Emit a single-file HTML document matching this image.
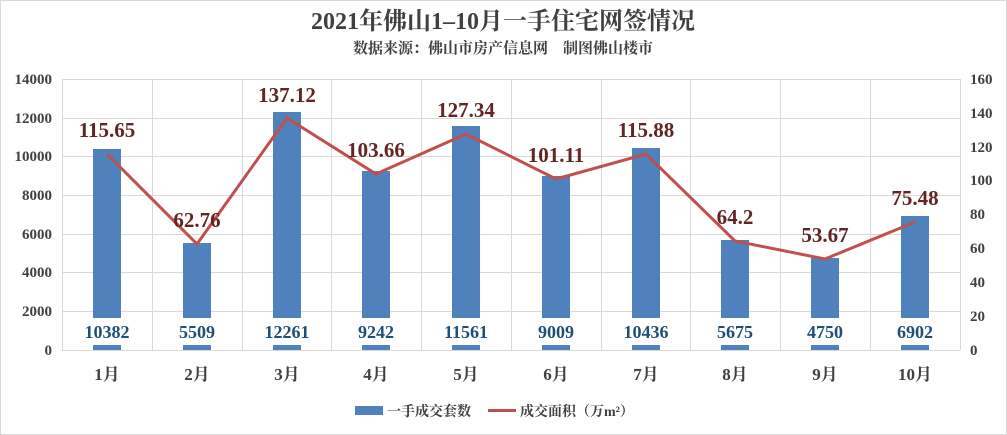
<!DOCTYPE html><html><head><meta charset="utf-8"><style>body{margin:0;background:#fff}svg{display:block}</style></head><body>
<svg width="1007" height="435" xmlns="http://www.w3.org/2000/svg" font-family="'Liberation Serif','Noto Serif CJK SC',serif" font-weight="bold">
<rect x="0.5" y="0.5" width="1006" height="434" fill="#fff" stroke="#d9d9d9"/>
<text x="503" y="29" text-anchor="middle" font-size="24" fill="#404040">2021年佛山1–10月一手住宅网签情况</text>
<text x="503" y="53" text-anchor="middle" font-size="15" fill="#404040">数据来源：佛山市房产信息网　制图佛山楼市</text>
<g stroke="#d9d9d9" stroke-width="1">
<line x1="62" y1="79.5" x2="960" y2="79.5"/><line x1="62" y1="118.5" x2="960" y2="118.5"/><line x1="62" y1="156.5" x2="960" y2="156.5"/><line x1="62" y1="195.5" x2="960" y2="195.5"/><line x1="62" y1="234.5" x2="960" y2="234.5"/><line x1="62" y1="272.5" x2="960" y2="272.5"/><line x1="62" y1="311.5" x2="960" y2="311.5"/><line x1="62" y1="350.5" x2="960" y2="350.5"/>
<line x1="62.5" y1="79" x2="62.5" y2="350"/><line x1="152.5" y1="79" x2="152.5" y2="350"/><line x1="242.5" y1="79" x2="242.5" y2="350"/><line x1="331.5" y1="79" x2="331.5" y2="350"/><line x1="421.5" y1="79" x2="421.5" y2="350"/><line x1="511.5" y1="79" x2="511.5" y2="350"/><line x1="601.5" y1="79" x2="601.5" y2="350"/><line x1="690.5" y1="79" x2="690.5" y2="350"/><line x1="780.5" y1="79" x2="780.5" y2="350"/><line x1="870.5" y1="79" x2="870.5" y2="350"/><line x1="960.5" y1="79" x2="960.5" y2="350"/>
</g>
<g font-size="15" fill="#404040" text-anchor="end">
<text x="52" y="84">14000</text><text x="52" y="123">12000</text><text x="52" y="161">10000</text><text x="52" y="200">8000</text><text x="52" y="239">6000</text><text x="52" y="277">4000</text><text x="52" y="316">2000</text><text x="52" y="355">0</text>
</g>
<g font-size="15" fill="#404040" text-anchor="start">
<text x="970" y="84">160</text><text x="970" y="118">140</text><text x="970" y="152">120</text><text x="970" y="185">100</text><text x="970" y="219">80</text><text x="970" y="253">60</text><text x="970" y="287">40</text><text x="970" y="321">20</text><text x="970" y="355">0</text>
</g>
<g fill="#4f81bd">
<rect x="93" y="149" width="28" height="201"/><rect x="183" y="243" width="28" height="107"/><rect x="273" y="112" width="28" height="238"/><rect x="362" y="171" width="28" height="179"/><rect x="452" y="126" width="28" height="224"/><rect x="542" y="176" width="28" height="174"/><rect x="632" y="148" width="28" height="202"/><rect x="721" y="240" width="28" height="110"/><rect x="811" y="258" width="28" height="92"/><rect x="901" y="216" width="28" height="134"/>
</g>
<g fill="#fff"><rect x="80" y="318" width="55" height="27"/><rect x="170" y="318" width="55" height="27"/><rect x="260" y="318" width="55" height="27"/><rect x="349" y="318" width="55" height="27"/><rect x="439" y="318" width="55" height="27"/><rect x="529" y="318" width="55" height="27"/><rect x="619" y="318" width="55" height="27"/><rect x="708" y="318" width="55" height="27"/><rect x="798" y="318" width="55" height="27"/><rect x="888" y="318" width="55" height="27"/></g>
<g font-size="18" fill="#1f4e79" text-anchor="middle">
<text x="107" y="338">10382</text><text x="197" y="338">5509</text><text x="287" y="338">12261</text><text x="376" y="338">9242</text><text x="466" y="338">11561</text><text x="556" y="338">9009</text><text x="646" y="338">10436</text><text x="735" y="338">5675</text><text x="825" y="338">4750</text><text x="915" y="338">6902</text>
</g>
<polyline fill="none" stroke="#c0504d" stroke-width="3" points="107,154 197,244 287,118 376,174 466,134 556,179 646,154 735,241 825,259 915,222"/>
<g font-size="21" fill="#632523" text-anchor="middle">
<text x="107" y="137">115.65</text><text x="197" y="227">62.76</text><text x="287" y="102">137.12</text><text x="376" y="157">103.66</text><text x="466" y="117">127.34</text><text x="556" y="162">101.11</text><text x="646" y="137">115.88</text><text x="735" y="224">64.2</text><text x="825" y="242">53.67</text><text x="915" y="205">75.48</text>
</g>
<g font-size="17" fill="#404040" text-anchor="middle">
<text x="107" y="380">1月</text><text x="197" y="380">2月</text><text x="287" y="380">3月</text><text x="376" y="380">4月</text><text x="466" y="380">5月</text><text x="556" y="380">6月</text><text x="646" y="380">7月</text><text x="735" y="380">8月</text><text x="825" y="380">9月</text><text x="915" y="380">10月</text>
</g>
<rect x="355" y="406" width="28" height="9" fill="#4f81bd"/>
<text x="387" y="416" font-size="14" fill="#404040">一手成交套数</text>
<line x1="488" y1="410.5" x2="516" y2="410.5" stroke="#c0504d" stroke-width="3"/>
<text x="520" y="416" font-size="14" fill="#404040">成交面积（万m²）</text>
</svg>
</body></html>
